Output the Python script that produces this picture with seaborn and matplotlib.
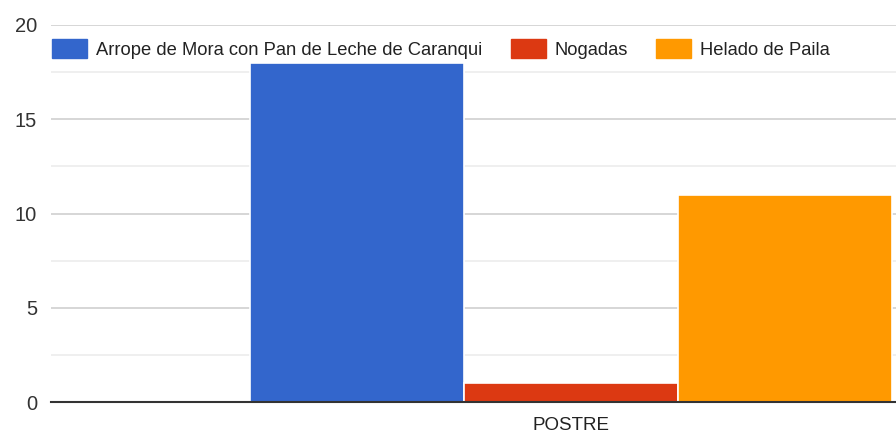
import pandas as pd
import matplotlib.pyplot as plt
import seaborn as sns
from matplotlib.ticker import MultipleLocator

# data
category = ['POSTRE']
series = ['Arrope de Mora con Pan de Leche de Caranqui', 'Nogadas', 'Helado de Paila']
values = [18, 1, 11]
colors = ['#3366cc', '#dc3912', '#ff9900']

df = pd.DataFrame({'grupo': category * len(series), 'serie': series, 'valor': values})

sns.set_style('white')
plt.rcParams['font.family'] = ['Liberation Sans', 'DejaVu Sans']

fig = plt.figure(figsize=(8.96, 4.41), dpi=100)
# axes run past the right edge, the reference is cropped there
ax = fig.add_axes([51 / 896, 39 / 441, 1040 / 896, 377 / 441])

sns.barplot(data=df, x='grupo', y='valor', hue='serie', hue_order=series,
            palette=colors, width=0.8, saturation=1, edgecolor='white',
            linewidth=1.2, ax=ax, legend=False)

ax.set_xlim(-0.648, 0.648)
ax.set_ylim(0, 20)
ax.yaxis.set_major_locator(MultipleLocator(5))
ax.yaxis.set_minor_locator(MultipleLocator(2.5))
ax.grid(axis='y', which='major', color='#d0d0d0', linewidth=1.2)
ax.grid(axis='y', which='minor', color='#ececec', linewidth=1.2)
ax.set_axisbelow(True)
for s in ['top', 'right', 'left']:
    ax.spines[s].set_visible(False)
ax.spines['bottom'].set_color('#333333')
ax.spines['bottom'].set_linewidth(1.5)
ax.tick_params(axis='y', which='both', length=0, labelsize=14.5, colors='#333333', pad=10)
ax.tick_params(axis='x', which='both', length=0, labelsize=13.5, colors='#222222', pad=11)
ax.set_xlabel('')
ax.set_ylabel('')

handles = [plt.Rectangle((0, 0), 1, 1, color=c) for c in colors]
fig.legend(handles, series, loc='upper left', bbox_to_anchor=(52 / 896, 1 - 39 / 441),
           ncol=3, frameon=False, fontsize=13.2, handlelength=1.9, handleheight=1.2,
           handletextpad=0.5, columnspacing=1.55, borderpad=0, borderaxespad=0,
           labelcolor='#222222')

plt.savefig('out.png', dpi=100)
